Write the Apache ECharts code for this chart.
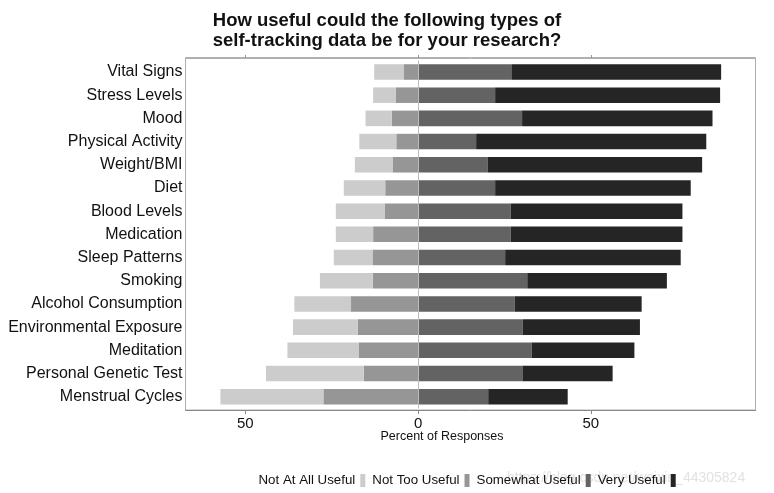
<!DOCTYPE html>
<html>
<head>
<meta charset="utf-8">
<script src="https://cdn.jsdelivr.net/npm/echarts@6/dist/echarts.min.js"></script>
<style>
html,body{margin:0;padding:0;background:#fff;}
#chart{width:774px;height:493px;}
</style>
</head>
<body>
<div id="chart"></div>
<script>
const categories = ["Vital Signs","Stress Levels","Mood","Physical Activity","Weight/BMI","Diet","Blood Levels","Medication","Sleep Patterns","Smoking","Alcohol Consumption","Environmental Exposure","Meditation","Personal Genetic Test","Menstrual Cycles"];
const notAtAllUseful = [8.5, 6.6, 7.6, 10.7, 10.9, 12.0, 14.1, 10.8, 11.2, 15.3, 16.4, 18.7, 20.7, 28.3, 29.8];
const notTooUseful   = [4.2, 6.4, 7.6, 6.3, 7.4, 9.5, 9.7, 13.0, 13.2, 13.1, 19.4, 17.5, 17.1, 15.7, 27.4];
const somewhatUseful = [27.0, 22.3, 30.1, 16.8, 20.1, 22.3, 26.8, 26.8, 25.2, 31.6, 28.0, 30.3, 32.9, 30.2, 20.3];
const veryUseful     = [60.7, 65.1, 55.1, 66.6, 62.1, 56.6, 49.7, 49.7, 50.8, 40.4, 36.7, 33.9, 29.7, 26.1, 23.0];
const tickValues = [-50, 0, 50];
const legendNames = ["Not At All Useful","Not Too Useful","Somewhat Useful","Very Useful"];

const colors = {"Not At All Useful":"#cccccc","Not Too Useful":"#969696","Somewhat Useful":"#636363","Very Useful":"#252525"};
const font = "'Liberation Sans', Arial, sans-serif";

const chart = echarts.init(document.getElementById('chart'));
function bar(name, data, extra){
  return Object.assign({
    name: name, type: 'bar', stack: 'total', data: data,
    barCategoryGap: '33%', itemStyle: {color: colors[name]},
    emphasis: {disabled: true}, animation: false
  }, extra || {});
}
chart.setOption({
  animation: false,
  backgroundColor: '#ffffff',
  textStyle: {fontFamily: font},
  title: {
    text: 'How useful could the following types of\nself-tracking data be for your research?',
    left: 'center', top: 6,
    textStyle: {fontSize: 18.5, fontWeight: 'bold', color: '#111', lineHeight: 20, fontFamily: font}
  },
  grid: {left: 185.5, right: 18.3, top: 60.4, bottom: 84.7},
  legend: {
    data: legendNames, left: 253.5, top: 469, align: 'right', icon: 'rect',
    itemWidth: 5, itemHeight: 13, itemGap: 7,
    textStyle: {fontSize: 13.3, color: '#111', fontFamily: font}
  },
  xAxis: [{
    type: 'value', min: -67.3, max: 97.7, position: 'bottom', offset: 1.7,
    axisLine: {show: true, lineStyle: {color: '#888'}},
    axisTick: {show: true, customValues: tickValues, length: 4, lineStyle: {color: '#888'}},
    axisLabel: {customValues: tickValues, formatter: v => Math.abs(v), fontSize: 15, color: '#111', margin: 6, fontFamily: font},
    splitLine: {show: false}
  },{
    type: 'value', min: -67.3, max: 97.7, position: 'top', offset: 2.4,
    axisLine: {show: true, lineStyle: {color: '#b0b0b0'}},
    axisTick: {show: true, customValues: tickValues, length: 3, lineStyle: {color: '#999'}},
    axisLabel: {show: false},
    splitLine: {show: false}
  }],
  yAxis: {
    type: 'category', data: categories, inverse: true,
    axisLine: {show: false},
    axisTick: {show: false},
    axisLabel: {fontSize: 16, color: '#111', margin: 3, fontFamily: font}
  },
  graphic: [
    {type: 'rect', silent: true, z: -1, shape: {x: 185.5, y: 57.5, width: 570, height: 352.5}, style: {fill: 'none', stroke: '#b0b0b0', lineWidth: 1}},
    {type: 'text', x: 442, y: 437, style: {text: 'Percent of Responses', font: "12.5px 'Liberation Sans', Arial, sans-serif", fill: '#111', align: 'center', verticalAlign: 'middle'}},
    {type: 'text', left: 507, top: 471, z: -1, style: {text: 'https://blog.csdn.net/weixin_44305824', font: "14px 'Liberation Sans', Arial, sans-serif", fill: '#e2e2e2'}}
  ],
  series: [
    bar('Not Too Useful', notTooUseful.map(v => -v), {
      markLine: {silent: true, symbol: 'none', label: {show: false}, lineStyle: {color: '#bbb', type: 'solid', width: 1}, data: [{xAxis: 0}], animation: false}
    }),
    bar('Not At All Useful', notAtAllUseful.map(v => -v)),
    bar('Somewhat Useful', somewhatUseful),
    bar('Very Useful', veryUseful)
  ]
});
</script>
</body>
</html>
